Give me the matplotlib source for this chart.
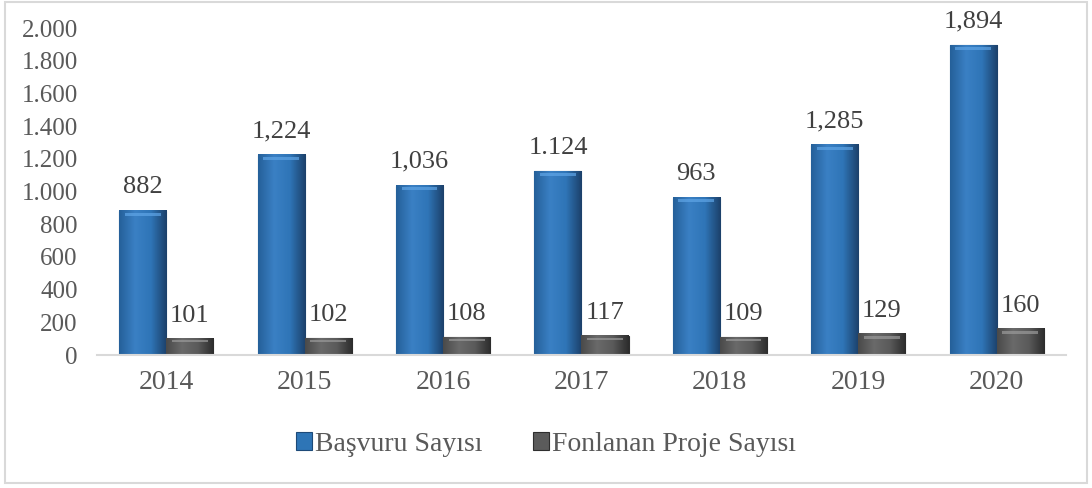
import matplotlib

matplotlib.use("Agg")
import matplotlib.pyplot as plt
import numpy as np
from matplotlib.colors import LinearSegmentedColormap
from matplotlib.patches import Rectangle
from matplotlib.ticker import FuncFormatter

years = ["2014", "2015", "2016", "2017", "2018", "2019", "2020"]
basvuru = [882, 1224, 1036, 1124, 963, 1285, 1894]
fonlanan = [101, 102, 108, 117, 109, 129, 160]
basvuru_labels = ["882", "1,224", "1,036", "1.124", "963", "1,285", "1,894"]
fonlanan_labels = ["101", "102", "108", "117", "109", "129", "160"]

plt.rcParams["font.family"] = ["Liberation Serif", "DejaVu Serif"]

fig = plt.figure(figsize=(10.92, 4.88), dpi=100)
ax = fig.add_axes([0.089, 0.2725, 0.887, 0.67])

x = np.arange(len(years))
w = 0.34
b1 = ax.bar(x - w / 2, basvuru, w, color="#2e75b6", edgecolor="#1d4a78", linewidth=0.8,
            label="Başvuru Sayısı")
b2 = ax.bar(x + w / 2, fonlanan, w, color="#5b5b5b", edgecolor="#2e2e2e", linewidth=0.8,
            label="Fonlanan Proje Sayısı")

# horizontal shading on each bar (bevel look) + a light band near the top
cmap_b = LinearSegmentedColormap.from_list("b", ["#25609a", "#3a80c4", "#2f75b7", "#1c416b"])
cmap_g = LinearSegmentedColormap.from_list("g", ["#4a4a4a", "#6a6a6a", "#5a5a5a", "#2c2c2c"])
grad = np.linspace(0, 1, 64).reshape(1, -1)
for bars, cm, hl in ((b1, cmap_b, "#5fa5e6"), (b2, cmap_g, "#9a9a9a")):
    for r in bars:
        x0, h = r.get_x(), r.get_height()
        ax.imshow(grad, cmap=cm, extent=[x0, x0 + w, 0, h], aspect="auto", zorder=2.1)
        band = min(22, h * 0.18)
        ax.add_patch(Rectangle((x0 + w * 0.12, h - band * 1.3), w * 0.76, band * 0.8,
                               color=hl, alpha=0.7, lw=0, zorder=2.2))

for xi, v, t in zip(x, basvuru, basvuru_labels):
    ax.text(xi - w / 2, v + 145, t, ha="center", va="center", fontsize=19, color="#404040")
for xi, v, t in zip(x, fonlanan, fonlanan_labels):
    ax.text(xi + w / 2, v + 140, t, ha="center", va="center", fontsize=19, color="#404040")

ax.set_xlim(-0.5, len(years) - 0.5)
ax.set_ylim(0, 2000)
ax.set_yticks(range(0, 2001, 200))
ax.yaxis.set_major_formatter(FuncFormatter(lambda v, p: f"{int(v):,}".replace(",", ".")))
ax.set_xticks(x)
ax.set_xticklabels(years)
ax.tick_params(axis="y", length=0, pad=14, labelsize=18, labelcolor="#595959")
ax.tick_params(axis="x", length=0, pad=11, labelsize=20, labelcolor="#595959")

for s in ("top", "right", "left"):
    ax.spines[s].set_visible(False)
ax.spines["bottom"].set_color("#d9d9d9")
ax.spines["bottom"].set_linewidth(1.5)
ax.spines["bottom"].set_zorder(3)

fig.legend(handles=[b1, b2], loc="center", bbox_to_anchor=(0.5, 0.09), ncol=2, frameon=False,
           fontsize=20, labelcolor="#595959", handlelength=0.6, handleheight=0.6,
           handletextpad=0.1, columnspacing=1.8)

fig.patches.append(Rectangle((0.005, 0.01), 0.99, 0.985, transform=fig.transFigure, fill=False,
                             edgecolor="#d9d9d9", linewidth=1.5))

fig.savefig("out.png", dpi=100)
